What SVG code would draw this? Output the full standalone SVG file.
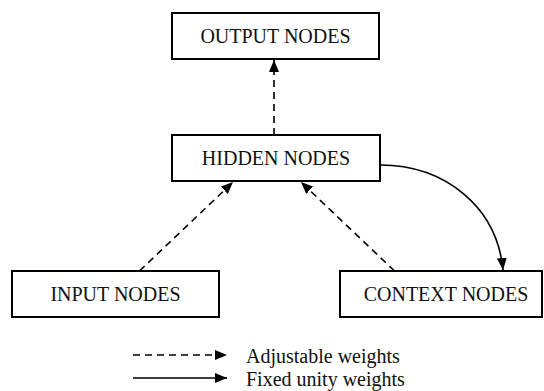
<svg xmlns="http://www.w3.org/2000/svg" width="544" height="391" viewBox="0 0 544 391">
<defs>
<style>
.box{fill:#fff;stroke:#000;stroke-width:2}
.lbl{font-family:"Liberation Serif","Times New Roman",serif;font-size:20px;fill:#111;text-anchor:middle}
.leg{font-family:"Liberation Serif","Times New Roman",serif;font-size:20px;fill:#111}
.dash{fill:none;stroke:#000;stroke-width:1.6;stroke-dasharray:7,5}
.solid{fill:none;stroke:#000;stroke-width:1.6}
</style>
<marker id="ah" viewBox="0 0 12 10" refX="12" refY="5" markerWidth="12" markerHeight="10" markerUnits="userSpaceOnUse" orient="auto">
<path d="M0,0 L12,5 L0,10 Z" fill="#000"/>
</marker>
</defs>
<rect width="544" height="391" fill="#fff"/>
<g id="connectors">
<line class="dash" x1="274" y1="135" x2="274" y2="60" marker-end="url(#ah)"/>
<line class="dash" x1="139.5" y1="271" x2="233" y2="182" marker-end="url(#ah)"/>
<line class="dash" x1="394.5" y1="271" x2="301" y2="182" marker-end="url(#ah)"/>
<path class="solid" d="M380,165 C445,165 497,207 503,270" marker-end="url(#ah)"/>
</g>
<g id="output-nodes">
<rect class="box" x="172" y="13" width="207" height="46"/>
<text class="lbl" x="275.5" y="43">OUTPUT NODES</text>
</g>
<g id="hidden-nodes">
<rect class="box" x="172" y="135" width="208" height="46"/>
<text class="lbl" x="276" y="165">HIDDEN NODES</text>
</g>
<g id="input-nodes">
<rect class="box" x="12" y="271" width="207" height="46"/>
<text class="lbl" x="115.5" y="301">INPUT NODES</text>
</g>
<g id="context-nodes">
<rect class="box" x="340" y="271" width="202" height="46"/>
<text class="lbl" x="446" y="301">CONTEXT NODES</text>
</g>
<g id="legend">
<line class="dash" x1="133" y1="355" x2="227" y2="355" marker-end="url(#ah)"/>
<line class="solid" x1="133" y1="378" x2="227" y2="378" marker-end="url(#ah)"/>
<text class="leg" x="246" y="363">Adjustable weights</text>
<text class="leg" x="246" y="386">Fixed unity weights</text>
</g>
</svg>
